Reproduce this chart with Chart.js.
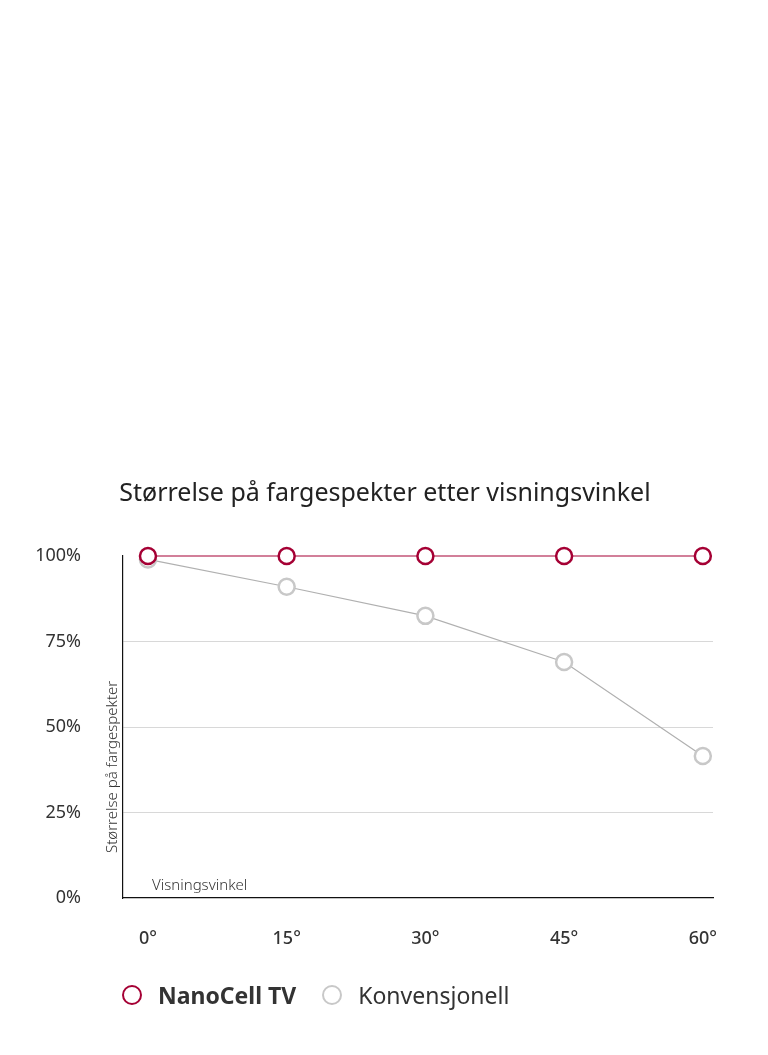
<!DOCTYPE html>
<html>
<head>
<meta charset="utf-8">
<script src="https://cdn.jsdelivr.net/npm/chart.js@4"></script>
<style>
  body { margin: 0; background: #fff; font-family: "Noto Sans", sans-serif; }
  #wrap { position: relative; width: 768px; height: 1055px; }
  #title { position: absolute; top: 474px; left: 0; width: 770px; text-align: center; font-size: 25px; color: #222; }
  #legend { position: absolute; top: 979px; left: 122px; font-size: 23px; color: #333; display: flex; align-items: center; }
  .dot { display: inline-block; width: 20px; height: 20px; border-radius: 50%; border: 2.5px solid; margin-right: 16px; box-sizing: border-box; }
</style>
</head>
<body>
<div id="wrap">
  <canvas id="c" width="768" height="1055"></canvas>
  <div id="title">Størrelse på fargespekter etter visningsvinkel</div>
  <div id="legend">
    <span class="dot" style="border-color:#a50034"></span><b style="margin-right:26px">NanoCell TV</b>
    <span class="dot" style="border-color:#c8c8c8"></span><span>Konvensjonell</span>
  </div>
</div>
<script>
const angles = [0, 15, 30, 45, 60];
const nanoCell = [100, 100, 100, 100, 100];
const conventional = [99, 91, 82.5, 69, 41.5];
const yTicks = [0, 25, 50, 75, 100];

const axisText = {
  id: 'axisText',
  afterDraw(chart) {
    const { ctx, chartArea } = chart;
    ctx.save();
    ctx.fillStyle = '#333';
    ctx.font = '300 15px "Noto Sans"';
    ctx.textBaseline = 'alphabetic';
    ctx.fillText('Visningsvinkel', chartArea.left + 29, chartArea.bottom - 8);
    ctx.translate(chartArea.left - 6, chartArea.bottom - 45);
    ctx.rotate(-Math.PI / 2);
    ctx.fillText('Størrelse på fargespekter', 0, 0);
    ctx.restore();
  }
};

new Chart(document.getElementById('c'), {
  type: 'line',
  data: {
    datasets: [
      {
        label: 'NanoCell TV',
        order: 1,
        data: angles.map((a, i) => ({ x: a, y: nanoCell[i] })),
        borderColor: '#a50034', borderWidth: 1.2,
        pointRadius: 8, pointBorderWidth: 2.5, pointBorderColor: '#a50034', pointBackgroundColor: '#fff'
      },
      {
        label: 'Konvensjonell',
        order: 2,
        data: angles.map((a, i) => ({ x: a, y: conventional[i] })),
        borderColor: '#b0b0b0', borderWidth: 1.2,
        pointRadius: 8, pointBorderWidth: 2.5, pointBorderColor: '#c8c8c8', pointBackgroundColor: '#fff'
      }
    ]
  },
  options: {
    responsive: false,
    animation: false,
    clip: false,
    layout: { padding: { top: 556, right: 55, bottom: 97, left: 0 } },
    plugins: { legend: { display: false }, tooltip: { enabled: false } },
    scales: {
      x: {
        type: 'linear', min: -2.7, max: 61.1,
        afterFit: s => { s.height = 60; },
        afterBuildTicks: s => { s.ticks = angles.map(v => ({ value: v })); },
        ticks: { callback: v => v + '°', color: '#333', font: { size: 18, family: 'Noto Sans', weight: '500' }, padding: 22 },
        grid: { display: false },
        border: { color: '#111', width: 1.2 }
      },
      y: {
        min: 0, max: 100,
        afterFit: s => { s.width = 123; },
        afterBuildTicks: s => { s.ticks = yTicks.map(v => ({ value: v })); },
        ticks: { callback: v => v + '%', color: '#333', font: { size: 18, family: 'Noto Sans' }, padding: 42 },
        grid: { color: c => (c.tick.value === 0 || c.tick.value === 100) ? 'rgba(0,0,0,0)' : '#d8d8d8', drawTicks: false },
        border: { color: '#111', width: 1.2 }
      }
    }
  },
  plugins: [axisText]
});
</script>
</body>
</html>
